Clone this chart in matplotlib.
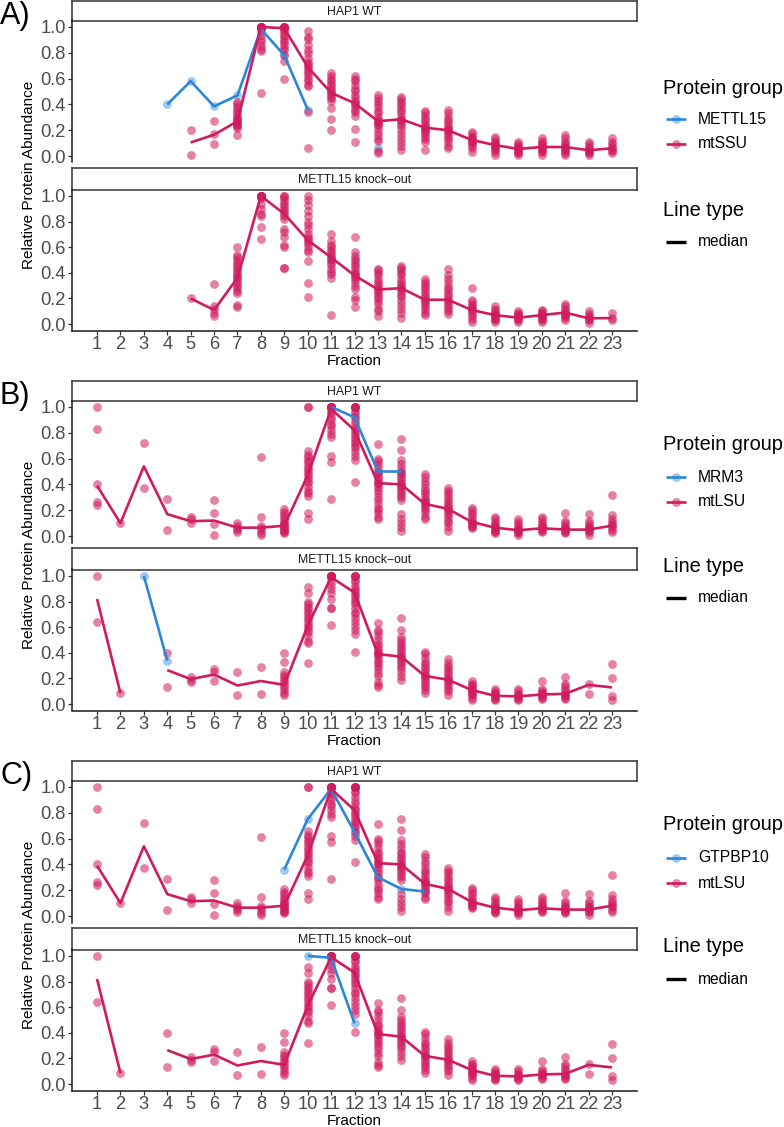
import numpy as np
import matplotlib
matplotlib.use("Agg")
import matplotlib.pyplot as plt

plt.rcParams['font.family'] = ['Liberation Sans', 'DejaVu Sans']

W, H = 784, 1127
fractions = list(range(1, 24))
frac_labels = [str(f) for f in fractions]
y_ticks = [0.0, 0.2, 0.4, 0.6, 0.8, 1.0]
y_tick_labels = ["0.0", "0.2", "0.4", "0.6", "0.8", "1.0"]
facet_labels = ["HAP1 WT", "METTL15 knock\u2212out"]
panel_letters = ["A)", "B)", "C)"]

# ---------------- mtSSU (panel A) ----------------
mtssu_wt_points = {
    5: [0.20, 0.01],
    6: [0.27, 0.17, 0.09],
    7: [0.42, 0.40, 0.38, 0.36, 0.34, 0.32, 0.30, 0.29, 0.28, 0.27, 0.26, 0.25, 0.24, 0.23, 0.22, 0.16],
    8: [1.0, 1.0, 1.0, 1.0, 1.0, 1.0, 1.0, 1.0, 0.97, 0.94, 0.91, 0.88, 0.85, 0.83, 0.81, 0.49],
    9: [1.0, 1.0, 1.0, 1.0, 1.0, 0.99, 0.98, 0.96, 0.94, 0.92, 0.90, 0.88, 0.86, 0.84, 0.82, 0.78, 0.74, 0.60],
    10: [0.97, 0.92, 0.91, 0.86, 0.82, 0.80, 0.76, 0.73, 0.71, 0.70, 0.68, 0.66, 0.64, 0.62, 0.60, 0.58, 0.55, 0.54, 0.34, 0.06],
    11: [0.64, 0.62, 0.60, 0.58, 0.56, 0.54, 0.52, 0.50, 0.49, 0.48, 0.46, 0.45, 0.43, 0.37, 0.29, 0.20],
    12: [0.62, 0.60, 0.58, 0.55, 0.52, 0.50, 0.47, 0.45, 0.43, 0.41, 0.40, 0.38, 0.36, 0.34, 0.31, 0.21, 0.11],
    13: [0.47, 0.45, 0.43, 0.40, 0.38, 0.35, 0.33, 0.30, 0.28, 0.27, 0.26, 0.25, 0.24, 0.22, 0.19, 0.16, 0.13, 0.12, 0.04, 0.02],
    14: [0.46, 0.44, 0.42, 0.40, 0.38, 0.36, 0.34, 0.31, 0.29, 0.28, 0.27, 0.25, 0.23, 0.20, 0.17, 0.14, 0.11, 0.08, 0.05],
    15: [0.35, 0.33, 0.31, 0.29, 0.27, 0.25, 0.23, 0.22, 0.21, 0.20, 0.19, 0.17, 0.15, 0.13, 0.11, 0.05],
    16: [0.36, 0.33, 0.30, 0.28, 0.26, 0.24, 0.22, 0.21, 0.20, 0.19, 0.17, 0.15, 0.13, 0.11, 0.08, 0.06],
    17: [0.19, 0.17, 0.15, 0.14, 0.13, 0.12, 0.11, 0.10, 0.08, 0.06, 0.03],
    18: [0.15, 0.13, 0.11, 0.10, 0.09, 0.08, 0.07, 0.06, 0.05, 0.03, 0.01],
    19: [0.11, 0.09, 0.08, 0.07, 0.06, 0.05, 0.04, 0.03, 0.02, 0.01],
    20: [0.14, 0.12, 0.10, 0.09, 0.08, 0.07, 0.06, 0.05, 0.04, 0.03, 0.01],
    21: [0.16, 0.14, 0.11, 0.10, 0.08, 0.07, 0.06, 0.05, 0.04, 0.02, 0.01],
    22: [0.11, 0.09, 0.07, 0.06, 0.05, 0.04, 0.03, 0.02, 0.01],
    23: [0.14, 0.11, 0.09, 0.07, 0.06, 0.05, 0.04, 0.02],
}
mtssu_wt_median_frac = list(range(5, 24))
mtssu_wt_median = [0.105, 0.165, 0.27, 1.0, 0.99, 0.69, 0.49, 0.41, 0.27, 0.285,
                   0.22, 0.20, 0.125, 0.085, 0.055, 0.07, 0.07, 0.045, 0.06]

mtssu_ko_points = {
    5: [0.20],
    6: [0.31, 0.14, 0.12, 0.09, 0.06],
    7: [0.60, 0.54, 0.52, 0.50, 0.48, 0.46, 0.44, 0.42, 0.40, 0.38, 0.37, 0.36, 0.34, 0.32, 0.30, 0.28, 0.26, 0.24, 0.15, 0.13],
    8: [1.0, 1.0, 1.0, 1.0, 1.0, 1.0, 1.0, 1.0, 0.98, 0.94, 0.90, 0.86, 0.84, 0.76, 0.66],
    9: [1.0, 1.0, 0.98, 0.96, 0.94, 0.92, 0.90, 0.88, 0.86, 0.84, 0.82, 0.74, 0.72, 0.68, 0.62, 0.60, 0.44, 0.44],
    10: [1.0, 0.97, 0.93, 0.88, 0.84, 0.80, 0.77, 0.74, 0.70, 0.68, 0.66, 0.65, 0.63, 0.61, 0.58, 0.56, 0.49, 0.32, 0.21],
    11: [0.70, 0.65, 0.62, 0.60, 0.58, 0.56, 0.54, 0.52, 0.51, 0.50, 0.48, 0.46, 0.43, 0.41, 0.39, 0.36, 0.07],
    12: [0.68, 0.56, 0.53, 0.51, 0.49, 0.47, 0.45, 0.43, 0.41, 0.39, 0.38, 0.37, 0.35, 0.33, 0.30, 0.27, 0.21, 0.19, 0.13],
    13: [0.43, 0.42, 0.40, 0.38, 0.35, 0.33, 0.31, 0.29, 0.27, 0.26, 0.24, 0.22, 0.20, 0.18, 0.16, 0.12, 0.10, 0.06],
    14: [0.45, 0.44, 0.42, 0.40, 0.38, 0.35, 0.33, 0.31, 0.29, 0.28, 0.27, 0.25, 0.23, 0.21, 0.18, 0.15, 0.12, 0.09, 0.05],
    15: [0.35, 0.33, 0.31, 0.29, 0.27, 0.25, 0.23, 0.21, 0.19, 0.18, 0.17, 0.15, 0.13, 0.11, 0.09, 0.07],
    16: [0.43, 0.38, 0.35, 0.32, 0.29, 0.27, 0.25, 0.23, 0.21, 0.19, 0.18, 0.16, 0.14, 0.12, 0.10, 0.08],
    17: [0.28, 0.19, 0.17, 0.15, 0.14, 0.12, 0.11, 0.10, 0.08, 0.06, 0.04, 0.02],
    18: [0.14, 0.12, 0.10, 0.09, 0.08, 0.07, 0.06, 0.05, 0.04, 0.03, 0.02],
    19: [0.10, 0.09, 0.08, 0.07, 0.06, 0.05, 0.04, 0.03, 0.02],
    20: [0.11, 0.10, 0.09, 0.08, 0.07, 0.06, 0.05, 0.04, 0.03, 0.02],
    21: [0.16, 0.14, 0.12, 0.10, 0.09, 0.08, 0.07, 0.06, 0.05, 0.03],
    22: [0.10, 0.08, 0.06, 0.05, 0.04, 0.03, 0.01],
    23: [0.09, 0.05, 0.03],
}
mtssu_ko_median_frac = list(range(5, 24))
mtssu_ko_median = [0.20, 0.11, 0.36, 1.0, 0.86, 0.655, 0.52, 0.38, 0.27, 0.28,
                   0.19, 0.19, 0.11, 0.07, 0.05, 0.07, 0.09, 0.045, 0.047]

# ---------------- mtLSU (panels B and C) ----------------
mtlsu_wt_points = {
    1: [1.0, 0.83, 0.40, 0.26, 0.24],
    2: [0.10],
    3: [0.72, 0.37],
    4: [0.29, 0.05],
    5: [0.15, 0.13, 0.10],
    6: [0.28, 0.175, 0.09, 0.01],
    7: [0.10, 0.08, 0.065, 0.05, 0.03],
    8: [0.61, 0.145, 0.08, 0.065, 0.05, 0.025, 0.01],
    9: [0.21, 0.19, 0.17, 0.15, 0.13, 0.11, 0.10, 0.09, 0.08, 0.07, 0.06, 0.05, 0.04, 0.03, 0.02],
    10: [1.0, 1.0, 0.66, 0.63, 0.61, 0.59, 0.57, 0.55, 0.53, 0.51, 0.49, 0.47, 0.45, 0.43, 0.41, 0.38, 0.35, 0.33, 0.31, 0.18, 0.13],
    11: [1.0, 1.0, 1.0, 1.0, 1.0, 1.0, 1.0, 1.0, 0.97, 0.95, 0.92, 0.90, 0.87, 0.85, 0.82, 0.79, 0.77, 0.62, 0.57, 0.29],
    12: [1.0, 1.0, 1.0, 1.0, 1.0, 0.97, 0.95, 0.92, 0.89, 0.87, 0.84, 0.82, 0.80, 0.78, 0.76, 0.74, 0.72, 0.70, 0.68, 0.65, 0.62, 0.59, 0.42],
    13: [0.71, 0.60, 0.58, 0.56, 0.53, 0.50, 0.48, 0.46, 0.44, 0.42, 0.41, 0.40, 0.38, 0.36, 0.33, 0.30, 0.28, 0.25, 0.22, 0.20, 0.18, 0.15, 0.13],
    14: [0.75, 0.67, 0.59, 0.56, 0.53, 0.50, 0.48, 0.46, 0.44, 0.42, 0.40, 0.39, 0.38, 0.36, 0.34, 0.32, 0.30, 0.28, 0.17, 0.13, 0.10, 0.07, 0.04],
    15: [0.48, 0.46, 0.43, 0.40, 0.37, 0.35, 0.33, 0.31, 0.29, 0.27, 0.26, 0.25, 0.24, 0.22, 0.20, 0.18, 0.15, 0.13],
    16: [0.37, 0.35, 0.33, 0.31, 0.29, 0.27, 0.25, 0.23, 0.22, 0.21, 0.20, 0.18, 0.16, 0.14, 0.12, 0.10, 0.07, 0.04],
    17: [0.22, 0.20, 0.18, 0.16, 0.14, 0.12, 0.11, 0.10, 0.09, 0.08, 0.07, 0.06],
    18: [0.15, 0.13, 0.11, 0.09, 0.08, 0.07, 0.06, 0.05, 0.04, 0.03, 0.02],
    19: [0.13, 0.11, 0.09, 0.07, 0.06, 0.05, 0.04, 0.03, 0.02, 0.01],
    20: [0.15, 0.13, 0.11, 0.09, 0.08, 0.07, 0.06, 0.05, 0.04, 0.03],
    21: [0.18, 0.12, 0.10, 0.08, 0.07, 0.06, 0.05, 0.04, 0.03, 0.02],
    22: [0.17, 0.12, 0.10, 0.08, 0.07, 0.06, 0.05, 0.04, 0.03, 0.01],
    23: [0.32, 0.16, 0.13, 0.11, 0.09, 0.08, 0.07, 0.05, 0.03],
}
mtlsu_wt_median_frac = list(range(1, 24))
mtlsu_wt_median = [0.39, 0.10, 0.54, 0.17, 0.115, 0.12, 0.065, 0.065, 0.08, 0.47,
                   0.985, 0.82, 0.41, 0.40, 0.25, 0.21, 0.11, 0.065, 0.045, 0.06,
                   0.05, 0.05, 0.08]

mtlsu_ko_points = {
    1: [1.0, 0.64],
    2: [0.085],
    4: [0.40, 0.13],
    5: [0.21, 0.19, 0.17],
    6: [0.27, 0.25, 0.18],
    7: [0.25, 0.07],
    8: [0.29, 0.08],
    9: [0.40, 0.33, 0.25, 0.23, 0.21, 0.19, 0.17, 0.15, 0.13, 0.11, 0.09, 0.07],
    10: [0.91, 0.87, 0.80, 0.78, 0.76, 0.74, 0.72, 0.70, 0.68, 0.66, 0.64, 0.62, 0.60, 0.58, 0.56, 0.53, 0.49, 0.48, 0.32],
    11: [1.0, 1.0, 1.0, 1.0, 1.0, 1.0, 1.0, 1.0, 0.96, 0.93, 0.90, 0.87, 0.82, 0.75, 0.75, 0.62],
    12: [1.0, 1.0, 1.0, 1.0, 0.97, 0.95, 0.92, 0.90, 0.88, 0.86, 0.84, 0.82, 0.80, 0.78, 0.75, 0.72, 0.70, 0.67, 0.64, 0.61, 0.58, 0.55, 0.41],
    13: [0.63, 0.58, 0.56, 0.53, 0.50, 0.47, 0.45, 0.43, 0.41, 0.40, 0.39, 0.38, 0.36, 0.34, 0.32, 0.30, 0.27, 0.24, 0.22, 0.17, 0.15, 0.13],
    14: [0.67, 0.58, 0.52, 0.50, 0.48, 0.46, 0.44, 0.42, 0.40, 0.38, 0.37, 0.36, 0.34, 0.32, 0.30, 0.28, 0.25, 0.22, 0.19],
    15: [0.41, 0.39, 0.36, 0.33, 0.31, 0.29, 0.27, 0.25, 0.23, 0.22, 0.21, 0.19, 0.17, 0.15, 0.13, 0.11, 0.09],
    16: [0.35, 0.32, 0.30, 0.28, 0.26, 0.24, 0.22, 0.20, 0.19, 0.18, 0.16, 0.14, 0.12, 0.10, 0.07],
    17: [0.18, 0.16, 0.15, 0.13, 0.12, 0.11, 0.10, 0.09, 0.08, 0.07, 0.05, 0.03],
    18: [0.12, 0.10, 0.09, 0.08, 0.07, 0.06, 0.05, 0.04, 0.03],
    19: [0.12, 0.10, 0.08, 0.07, 0.06, 0.05, 0.04, 0.03],
    20: [0.18, 0.12, 0.10, 0.09, 0.08, 0.07, 0.06, 0.05, 0.04],
    21: [0.21, 0.16, 0.14, 0.12, 0.10, 0.08, 0.07, 0.06, 0.05, 0.04],
    22: [0.155, 0.08],
    23: [0.31, 0.20, 0.06, 0.035],
}
mtlsu_ko_median_frac = list(range(1, 24))
mtlsu_ko_median = [0.82, 0.085, np.nan, 0.265, 0.195, 0.23, 0.145, 0.18, 0.15, 0.61,
                   0.99, 0.87, 0.39, 0.37, 0.22, 0.19, 0.11, 0.065, 0.06, 0.075,
                   0.08, 0.15, 0.13]

# ---------------- single proteins (blue) ----------------
mettl15_wt_frac = [4, 5, 6, 7, 8, 9, 10, 11, 12, 13]
mettl15_wt_val = [0.40, 0.58, 0.385, 0.47, 0.985, 0.78, 0.36, np.nan, np.nan, 0.06]
mettl15_ko_frac = []
mettl15_ko_val = []

mrm3_wt_frac = [11, 12, 13, 14]
mrm3_wt_val = [1.0, 0.92, 0.50, 0.50]
mrm3_ko_frac = [3, 4]
mrm3_ko_val = [1.0, 0.34]

gtpbp10_wt_frac = [9, 10, 11, 12, 13, 14, 15]
gtpbp10_wt_val = [0.36, 0.75, 0.985, 0.65, 0.30, 0.21, 0.19]
gtpbp10_ko_frac = [10, 11, 12]
gtpbp10_ko_val = [1.0, 0.985, 0.475]

# ---------------- styling ----------------
CRIMSON = '#D01B5E'
BLUE = '#2C87D8'
BLUE_PT = '#4B9DE6'
PT_ALPHA = 0.55
PT_SIZE = 40
LW = 1.9

panels = [
    dict(letter="A)", offset=0, protein="METTL15", complex="mtSSU",
         cplx=[(mtssu_wt_points, mtssu_wt_median_frac, mtssu_wt_median),
               (mtssu_ko_points, mtssu_ko_median_frac, mtssu_ko_median)],
         single=[(mettl15_wt_frac, mettl15_wt_val), (mettl15_ko_frac, mettl15_ko_val)],
         leg=[88, 119, 144, 210, 242]),
    dict(letter="B)", offset=380, protein="MRM3", complex="mtLSU",
         cplx=[(mtlsu_wt_points, mtlsu_wt_median_frac, mtlsu_wt_median),
               (mtlsu_ko_points, mtlsu_ko_median_frac, mtlsu_ko_median)],
         single=[(mrm3_wt_frac, mrm3_wt_val), (mrm3_ko_frac, mrm3_ko_val)],
         leg=[65, 97, 122, 187, 218]),
    dict(letter="C)", offset=760, protein="GTPBP10", complex="mtLSU",
         cplx=[(mtlsu_wt_points, mtlsu_wt_median_frac, mtlsu_wt_median),
               (mtlsu_ko_points, mtlsu_ko_median_frac, mtlsu_ko_median)],
         single=[(gtpbp10_wt_frac, gtpbp10_wt_val), (gtpbp10_ko_frac, gtpbp10_ko_val)],
         leg=[65, 98, 123, 187, 219]),
]

fig = plt.figure(figsize=(W / 100, H / 100), dpi=100)
fig.patch.set_facecolor('white')


def px_axes(x0, y0, x1, y1):
    return fig.add_axes([x0 / W, 1 - y1 / H, (x1 - x0) / W, (y1 - y0) / H])


AX_L, AX_R = 72, 637


def draw_strip(y0, y1, label):
    s = px_axes(AX_L, y0, AX_R, y1)
    s.set_xticks([])
    s.set_yticks([])
    for sp in s.spines.values():
        sp.set_linewidth(1.1)
        sp.set_color('#333333')
    s.text(0.5, 0.45, label, ha='center', va='center', fontsize=8.8,
           color='#1A1A1A', transform=s.transAxes)


def draw_facet(ax, cplx, single, show_x):
    pts, mfrac, mval = cplx
    sfrac, sval = single
    sx = [f for f, v in zip(sfrac, sval) if not np.isnan(v)]
    sy = [v for v in sval if not np.isnan(v)]
    if sx:
        ax.scatter(sx, sy, s=PT_SIZE, color=BLUE_PT, alpha=PT_ALPHA, linewidths=0, zorder=2)
    xs, ys = [], []
    for f, vals in pts.items():
        xs += [f] * len(vals)
        ys += vals
    ax.scatter(xs, ys, s=PT_SIZE, color=CRIMSON, alpha=PT_ALPHA, linewidths=0, zorder=2)
    if sfrac:
        ax.plot(sfrac, sval, color=BLUE, lw=LW, zorder=3, solid_capstyle='butt')
    ax.plot(mfrac, mval, color=CRIMSON, lw=LW, zorder=4, solid_capstyle='butt')

    ax.set_xlim(-0.07, 24.07)
    ax.set_ylim(-0.05, 1.05)
    ax.set_yticks(y_ticks)
    ax.set_yticklabels(y_tick_labels)
    ax.set_xticks(fractions)
    for sp in ['top', 'right']:
        ax.spines[sp].set_visible(False)
    ax.spines['left'].set_linewidth(1.1)
    ax.spines['left'].set_color('#1A1A1A')
    ax.tick_params(axis='y', length=3, width=0.9, color='#333333', pad=1.5,
                   labelsize=13.2, labelcolor='#4D4D4D')
    if show_x:
        ax.spines['bottom'].set_linewidth(1.1)
        ax.spines['bottom'].set_color('#1A1A1A')
        ax.set_xticklabels(frac_labels)
        ax.tick_params(axis='x', length=3, width=0.9, color='#333333', pad=1.0,
                       labelsize=13.2, labelcolor='#4D4D4D')
    else:
        ax.spines['bottom'].set_visible(False)
        ax.tick_params(axis='x', length=0, labelbottom=False)
    ax.patch.set_alpha(0)


overlay = fig.add_axes([0, 0, 1, 1], zorder=10)
overlay.set_xlim(0, W)
overlay.set_ylim(H, 0)
overlay.axis('off')
overlay.patch.set_alpha(0)

for p in panels:
    o = p['offset']
    draw_strip(1 + o, 20.5 + o, facet_labels[0])
    ax1 = px_axes(AX_L, 20.5 + o, AX_R, 162.5 + o)
    draw_facet(ax1, p['cplx'][0], p['single'][0], show_x=False)
    draw_strip(168 + o, 189.5 + o, facet_labels[1])
    ax2 = px_axes(AX_L, 189.5 + o, AX_R, 330.5 + o)
    draw_facet(ax2, p['cplx'][1], p['single'][1], show_x=True)

    overlay.text(0, 16 + o, p['letter'], fontsize=22, ha='left', va='center', color='black')
    overlay.text(29, 175 + o, "Relative Protein Abundance", rotation=90, fontsize=11,
                 ha='center', va='center', color='black')
    overlay.text((AX_L + AX_R) / 2, 361 + o, "Fraction", fontsize=11, ha='center',
                 va='center', color='black')

    ty, e1, e2, lt, md = [v + o for v in p['leg']]
    overlay.text(663, ty, "Protein group", fontsize=14.4, ha='left', va='center', color='black')
    for yy, name, lc, pc in [(e1, p['protein'], BLUE, BLUE_PT), (e2, p['complex'], CRIMSON, CRIMSON)]:
        overlay.plot([666, 686], [yy, yy], color=lc, lw=LW, solid_capstyle='butt')
        overlay.scatter([676], [yy], s=PT_SIZE, color=pc, alpha=PT_ALPHA, linewidths=0)
        overlay.text(698, yy, name, fontsize=11.3, ha='left', va='center', color='black')
    overlay.text(663, lt, "Line type", fontsize=14.4, ha='left', va='center', color='black')
    overlay.plot([666, 686], [md, md], color='black', lw=2.4, solid_capstyle='butt')
    overlay.text(698, md, "median", fontsize=11.2, ha='left', va='center', color='black')

fig.savefig("out.png", dpi=100, facecolor='white')
